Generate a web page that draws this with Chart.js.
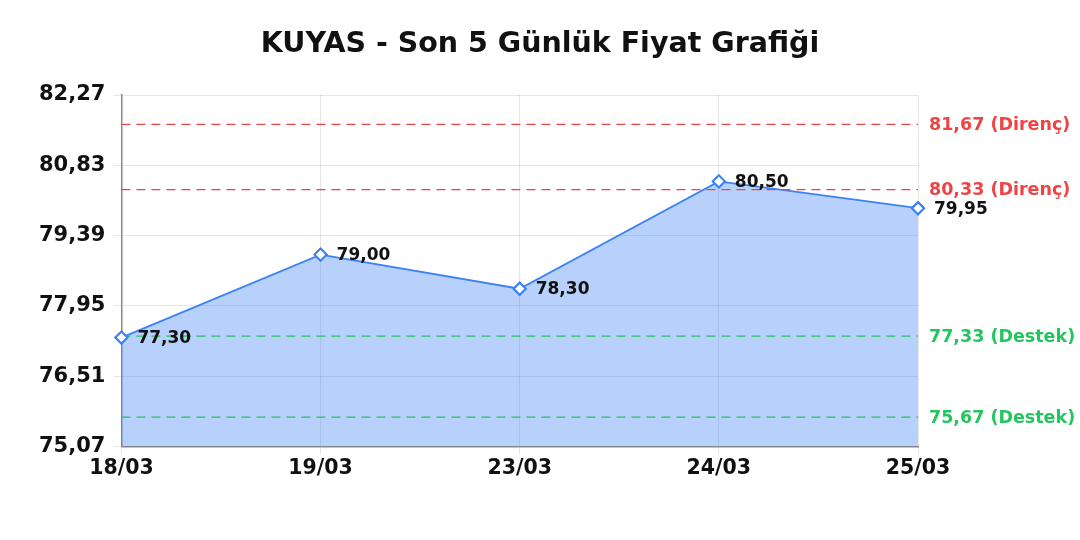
<!DOCTYPE html>
<html><head><meta charset="utf-8">
<script src="https://cdn.jsdelivr.net/npm/chart.js@4/dist/chart.umd.min.js"></script>
<style>html,body{margin:0;padding:0;background:#fff}#w{width:1080px;height:540px}</style>
</head><body><div id="w"><canvas id="c"></canvas></div>
<script>
const titleText = "KUYAS - Son 5 Günlük Fiyat Grafiği";
const categories = ["18/03","19/03","23/03","24/03","25/03"];
const prices = [77.30, 79.00, 78.30, 80.50, 79.95];
const yMin = 75.07, yMax = 82.27, yStep = 1.44;
const levelValues = [81.67, 80.33, 77.33, 75.67];
const levelLabels = ["81,67 (Direnç)","80,33 (Direnç)","77,33 (Destek)","75,67 (Destek)"];
const levelColors = ["#ef4444","#ef4444","#22c55e","#22c55e"];
const FONT = '"DejaVu Sans", sans-serif';
const fmt = v => v.toFixed(2).replace('.', ',');

const extras = {
  id: 'extras',
  afterDraw(chart) {
    const {ctx, width} = chart;
    ctx.save();
    ctx.fillStyle = '#111';
    ctx.font = "bold 28.5px " + FONT;
    ctx.textAlign = 'center'; ctx.textBaseline = 'middle';
    ctx.fillText(titleText, width / 2, 45);
    ctx.restore();
  },
  afterDatasetsDraw(chart) {
    const {ctx, chartArea, scales:{y}} = chart;
    ctx.save();
    levelValues.forEach((v,i) => {
      const py = y.getPixelForValue(v);
      ctx.strokeStyle = levelColors[i];
      ctx.lineWidth = 1.3;
      ctx.setLineDash([9,6]);
      ctx.beginPath(); ctx.moveTo(chartArea.left, py); ctx.lineTo(chartArea.right, py); ctx.stroke();
      ctx.setLineDash([]);
      ctx.fillStyle = levelColors[i];
      ctx.font = "bold 17.5px " + FONT;
      ctx.textAlign = 'left'; ctx.textBaseline = 'middle';
      ctx.fillText(levelLabels[i], chartArea.right + 11, py + 1);
    });
    const meta = chart.getDatasetMeta(0);
    meta.data.forEach(p => p.draw(ctx));
    ctx.fillStyle = '#111';
    ctx.font = "bold 17px " + FONT;
    meta.data.forEach((p,i) => {
      ctx.fillText(fmt(prices[i]), p.x + 16, p.y + 1);
    });
    ctx.restore();
  }
};

new Chart(document.getElementById('c'), {
  type: 'line',
  data: { labels: categories, datasets: [{
    data: prices,
    borderColor: '#3b82f6', borderWidth: 1.8,
    backgroundColor: 'rgba(59,130,246,0.37)',
    fill: 'start', tension: 0,
    pointStyle: 'rectRot', pointRadius: 6, pointBorderWidth: 2,
    pointBackgroundColor: '#fff', pointBorderColor: '#3b82f6'
  }]},
  options: {
    responsive: true, maintainAspectRatio: false, animation: false,
    layout: { padding: { left: 31, right: 162, top: 95, bottom: 57 } },
    plugins: {
      legend: { display: false }, tooltip: { enabled: false }, title: { display: false }
    },
    scales: {
      x: { type: 'category', offset: false,
        grid: { color: 'rgba(0,0,0,0.1)' },
        border: { color: '#888', width: 1.5 },
        ticks: { color: '#111', font: { family: FONT, size: 20.5, weight: 'bold' }, padding: 2, maxRotation: 0 } },
      y: { min: yMin, max: yMax,
        afterBuildTicks(scale) {
          const t = []; for (let i = 0; i <= 5; i++) t.push({ value: +(yMin + i*yStep).toFixed(2) });
          scale.ticks = t;
        },
        grid: { color: 'rgba(0,0,0,0.1)' },
        border: { color: '#888', width: 1.5 },
        ticks: { color: '#111', font: { family: FONT, size: 21, weight: 'bold' }, padding: 8,
          callback: v => fmt(v) } }
    }
  },
  plugins: [extras]
});
</script></body></html>
